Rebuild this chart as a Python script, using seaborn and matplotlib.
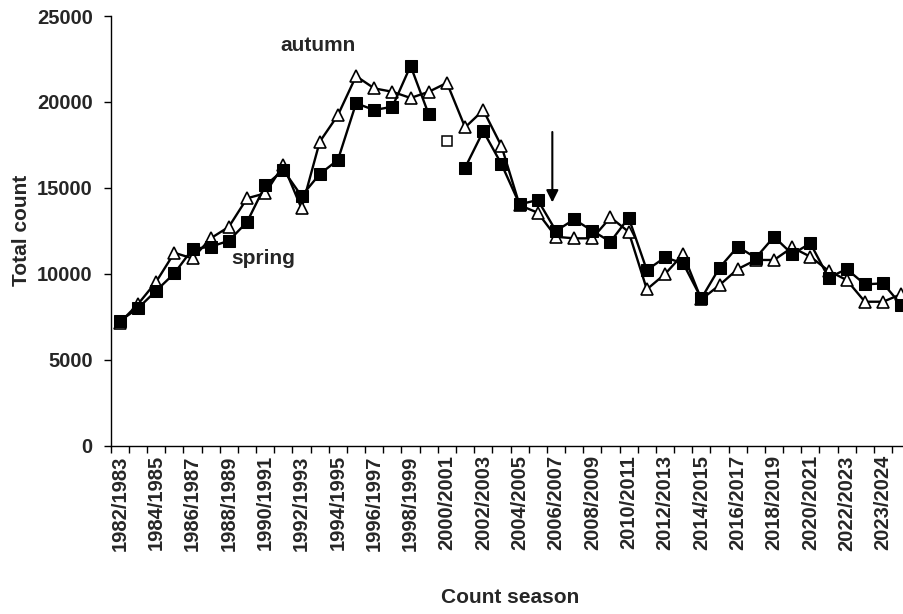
import numpy as np
import pandas as pd
import seaborn as sns
import matplotlib
matplotlib.use("Agg")
import matplotlib.pyplot as plt

# count seasons (labels shown on every second category)
seasons = [f"{y}/{y + 1}" for y in range(1982, 2023)] + ["2022/2023", "2023/2024", "2024/2025"]

# total counts
spring = [7250, 7990, 9010, 10020, 11440, 11570, 11920, 13010, 15140, 16030,
          14520, 15800, 16620, 19920, 19530, 19720, 22100, 19270, np.nan, 16170,
          18300, 16380, 14040, 14290, 12490, 13160, 12500, 11860, 13260, 10210,
          10950, 10600, 8560, 10350, 11570, 10930, 12150, 11140, 11770, 9770,
          10270, 9380, 9440, 8180]
autumn = [7150, 8230, 9530, 11220, 10890, 12060, 12730, 14390, 14680, 16320,
          13800, 17680, 19230, 21500, 20790, 20590, 20230, 20590, 21110, 18520,
          19520, 17430, 13990, 13550, 12150, 12060, 12060, 13280, 12440, 9090,
          9980, 11140, 8500, 9340, 10270, 10800, 10800, 11530, 10990, 10170,
          9630, 8370, 8370, 8810]
# estimated spring value for the missing season
spring_est_season = 18
spring_est_value = 17740

sns.set_style("ticks")
plt.rcParams["font.family"] = ["Liberation Sans", "DejaVu Sans"]
plt.rcParams["font.weight"] = "bold"

df = pd.DataFrame({"pos": np.arange(len(seasons)), "season": seasons,
                   "spring": spring, "autumn": autumn})

fig = plt.figure(figsize=(9.04, 6.14), dpi=100)
ax = fig.add_axes([0.1225, 0.2744, 0.8845, 0.6995])

sns.lineplot(data=df, x="pos", y="autumn", ax=ax, color="black", lw=1.7,
             marker="^", markersize=9, markerfacecolor="white",
             markeredgecolor="black", markeredgewidth=1.2)

# spring line is broken at the missing season
before = df[df["pos"] < spring_est_season]
after = df[df["pos"] > spring_est_season]
for part in (before, after):
    sns.lineplot(data=part, x="pos", y="spring", ax=ax, color="black", lw=1.7,
                 marker="s", markersize=8, markerfacecolor="black",
                 markeredgecolor="black")
ax.plot([spring_est_season], [spring_est_value], marker="s", markersize=7,
        markerfacecolor="white", markeredgecolor="black", markeredgewidth=1.1,
        linestyle="none")

ax.annotate("", xy=(23.8, 14150), xytext=(23.8, 18250),
            arrowprops=dict(arrowstyle="-|>", color="black", lw=1.5,
                            mutation_scale=18, shrinkA=0, shrinkB=0))
ax.text(10.9, 23300, "autumn", ha="center", va="center", fontsize=15, fontweight="bold")
ax.text(7.9, 10900, "spring", ha="center", va="center", fontsize=15, fontweight="bold")

ax.set_xlim(-0.5, len(seasons) - 0.5)
ax.set_ylim(0, 25000)
ax.set_yticks(range(0, 25001, 5000))
ax.set_xticks(np.arange(len(seasons) + 1) - 0.5)
ax.set_xticklabels([])
ax.set_xticks(df["pos"][::2], labels=seasons[::2], minor=True)
ax.tick_params(axis="x", which="minor", length=0, rotation=90, labelsize=14.5, pad=7)
ax.tick_params(axis="x", which="major", length=5, width=1, color="black")
ax.tick_params(axis="y", length=5, width=1, color="black", labelsize=14.5, pad=8)
for lab in ax.get_xticklabels(minor=True) + ax.get_yticklabels():
    lab.set_fontweight("bold")

ax.set_xlabel("Count season", fontsize=15, fontweight="bold", labelpad=27)
ax.set_ylabel("Total count", fontsize=15, fontweight="bold", labelpad=4)
sns.despine(ax=ax)
for side in ("left", "bottom"):
    ax.spines[side].set_color("black")
    ax.spines[side].set_linewidth(1)

fig.savefig("out.png", dpi=100)
